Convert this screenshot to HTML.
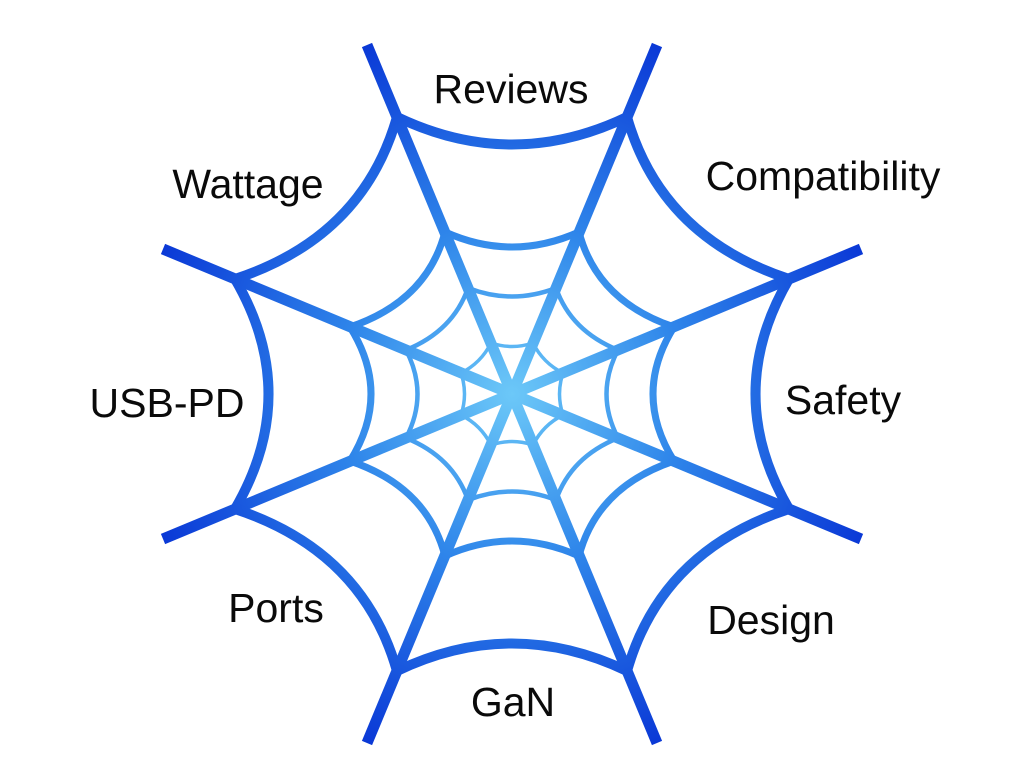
<!DOCTYPE html>
<html><head><meta charset="utf-8"><style>
html,body{margin:0;padding:0;background:#fff;width:1024px;height:768px;overflow:hidden}
svg{display:block}
text{font-family:"Liberation Sans",sans-serif;font-size:41px;fill:#0a0a0a}
</style></head><body>
<svg width="1024" height="768" viewBox="0 0 1024 768" xmlns="http://www.w3.org/2000/svg">
<defs>
<radialGradient id="g" gradientUnits="userSpaceOnUse" cx="512" cy="394" r="380">
<stop offset="0" stop-color="#6cc8f8"/>
<stop offset="0.45" stop-color="#2f86ea"/>
<stop offset="1" stop-color="#0a38d6"/>
</radialGradient>
</defs>
<g fill="none" stroke="url(#g)" stroke-linecap="round">
<g stroke-width="11" stroke-linecap="butt">
<line x1="512" y1="394" x2="367" y2="45"/>
<line x1="512" y1="394" x2="657" y2="45"/>
<line x1="512" y1="394" x2="861" y2="249"/>
<line x1="512" y1="394" x2="861" y2="539"/>
<line x1="512" y1="394" x2="657" y2="743"/>
<line x1="512" y1="394" x2="367" y2="743"/>
<line x1="512" y1="394" x2="163" y2="539"/>
<line x1="512" y1="394" x2="163" y2="249"/>
</g>
<path stroke-width="10" d="M397,117 Q512,172 627,117 Q661,237 789,279 Q722,394 789,509 Q661,551 627,671 Q512,616 397,671 Q363,551 235,509 Q302,394 235,279 Q363,237 397,117"/>
<path stroke-width="7" d="M445,232 Q512,262 579,232 Q597,301 674,327 Q632,394 674,461 Q597,487 579,556 Q512,526 445,556 Q427,487 350,461 Q392,394 350,327 Q427,301 445,232"/>
<path stroke-width="4.5" d="M468,288 Q512,305 556,288 Q571,331 618,350 Q595,394 618,438 Q571,457 556,500 Q512,483 468,500 Q453,457 406,438 Q429,394 406,350 Q453,331 468,288"/>
<path stroke-width="3.5" d="M491,343 Q512,350 533,343 Q543,363 563,373 Q556,394 563,415 Q543,425 533,445 Q512,438 491,445 Q481,425 461,415 Q468,394 461,373 Q481,363 491,343"/>
</g>
<text x="511" y="103" text-anchor="middle">Reviews</text>
<text x="248" y="198" text-anchor="middle">Wattage</text>
<text x="823" y="190" text-anchor="middle">Compatibility</text>
<text x="167" y="417" text-anchor="middle">USB-PD</text>
<text x="843" y="414" text-anchor="middle">Safety</text>
<text x="276" y="622" text-anchor="middle">Ports</text>
<text x="771" y="634" text-anchor="middle">Design</text>
<text x="513" y="716" text-anchor="middle">GaN</text>
</svg>
</body></html>
